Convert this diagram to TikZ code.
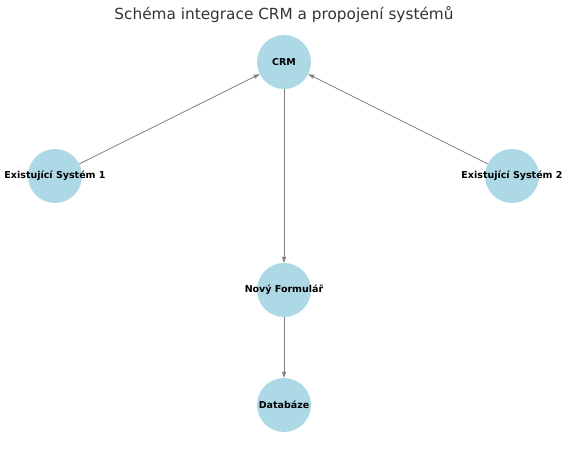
\documentclass[tikz,border=0pt]{standalone}
\usepackage{fontspec}
\setmainfont{DejaVu Sans}
\usetikzlibrary{arrows.meta, positioning}
\definecolor{lightblue}{RGB}{173,216,230}
\definecolor{edgegray}{RGB}{128,128,128}
\newcommand{\lbl}[1]{\makebox[0pt]{#1}}

\begin{document}
\begin{tikzpicture}[
    x=1pt, y=1pt,
    node distance=114pt and 229pt, on grid,
    every node/.style={font=\fontsize{9.5}{11}\selectfont\bfseries},
    sys/.style={circle, fill=lightblue, minimum size=54pt, inner sep=0pt},
    arrow/.style={-{Triangle[length=6pt, width=4pt]}, edgegray, line width=0.8pt}
]
    \useasboundingbox (0,0) rectangle (567,448);
    \node[font=\fontsize{15.3}{18}\selectfont, text=black!80] (title) at (284,433) {Schéma integrace CRM a propojení systémů};

    \node[sys] (crm) at (284,386) {\lbl{CRM}};
    \node[sys, below left=of crm] (sys1) {\lbl{Existující Systém 1}};
    \node[sys, below right=114pt and 228pt of crm] (sys2) {\lbl{Existující Systém 2}};
    \node[sys, below=228pt of crm] (form) {\lbl{Nový Formulář}};
    \node[sys, below=115pt of form] (db) {\lbl{Databáze}};

    \draw[arrow] (sys1) -- (crm);
    \draw[arrow] (sys2) -- (crm);
    \draw[arrow] (crm) -- (form);
    \draw[arrow] (form) -- (db);
\end{tikzpicture}
\end{document}
